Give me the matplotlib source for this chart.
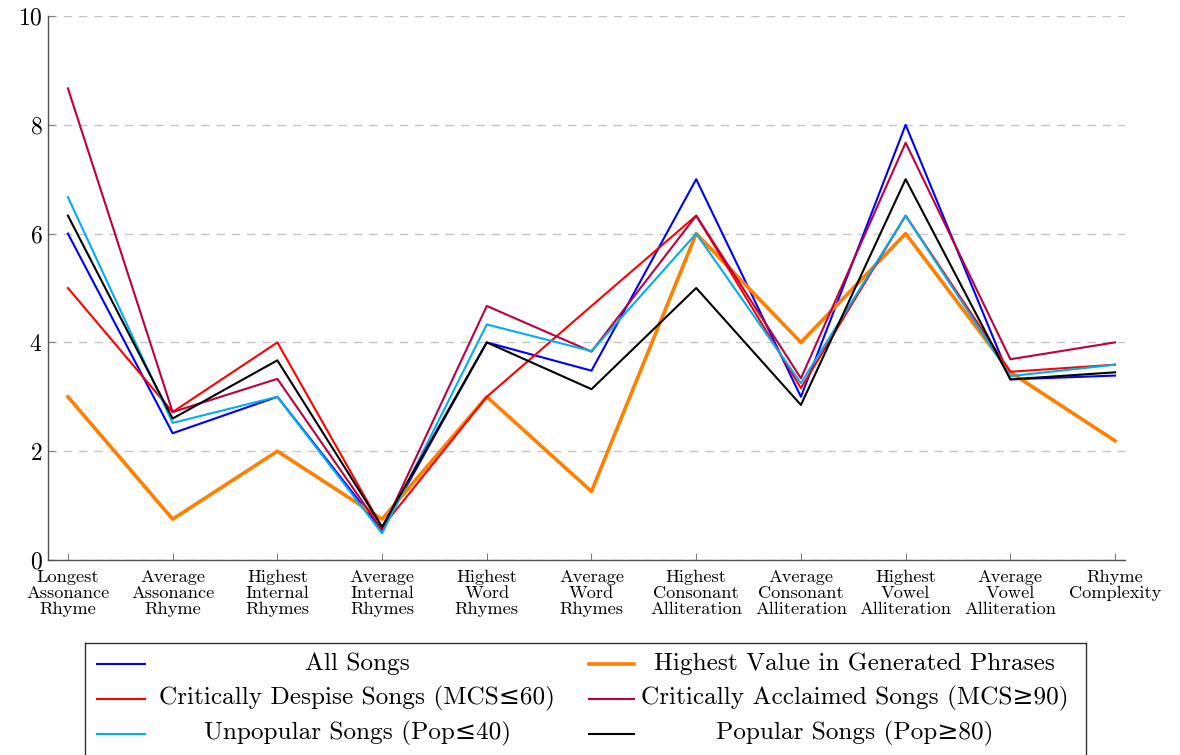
import numpy as np
import matplotlib
matplotlib.use("Agg")
import matplotlib.pyplot as plt

plt.rcParams['font.family'] = ['cmr10', 'DejaVu Serif']
plt.rcParams['mathtext.fontset'] = 'cm'
plt.rcParams['axes.formatter.use_mathtext'] = True

categories = ['Longest\nAssonance\nRhyme', 'Average\nAssonance\nRhyme', 'Highest\nInternal\nRhymes',
              'Average\nInternal\nRhymes', 'Highest\nWord\nRhymes', 'Average\nWord\nRhymes',
              'Highest\nConsonant\nAlliteration', 'Average\nConsonant\nAlliteration',
              'Highest\nVowel\nAlliteration', 'Average\nVowel\nAlliteration', 'Rhyme\nComplexity']

all_songs = [6.0, 2.33, 3.0, 0.55, 4.0, 3.48, 7.0, 3.0, 8.0, 3.32, 3.39]
generated = [3.0, 0.75, 2.0, 0.75, 3.0, 1.26, 6.0, 4.0, 6.0, 3.45, 2.19]
despised = [5.0, 2.72, 4.0, 0.6, 3.0, 4.67, 6.33, 3.16, 6.33, 3.46, 3.59]
acclaimed = [8.67, 2.72, 3.33, 0.55, 4.67, 3.83, 6.33, 3.34, 7.67, 3.69, 4.0]
unpopular = [6.67, 2.52, 3.0, 0.49, 4.33, 3.84, 6.0, 3.25, 6.33, 3.38, 3.59]
popular = [6.33, 2.6, 3.67, 0.61, 4.0, 3.14, 5.0, 2.85, 7.0, 3.32, 3.45]

series = [
    ('All Songs', all_songs, '#0000ff', 1.5),
    ('Highest Value in Generated Phrases', generated, '#ff8000', 2.6),
    ('Critically Despise Songs (MCS≤60)', despised, '#ff0000', 1.5),
    ('Critically Acclaimed Songs (MCS≥90)', acclaimed, '#bf0040', 1.5),
    ('Unpopular Songs (Pop≤40)', unpopular, '#00aeef', 1.5),
    ('Popular Songs (Pop≥80)', popular, '#000000', 1.5),
]

fig = plt.figure(figsize=(11.8, 7.55), dpi=100)
ax = fig.add_axes([0.0407, 0.2583, 0.9127, 0.7205])
x = np.arange(len(categories))
for name, vals, col, lw in series:
    ax.plot(x, vals, color=col, lw=lw, label=name)

ax.set_xlim(-0.19, 10.095)
ax.set_ylim(0, 10)
ax.set_yticks([0, 2, 4, 6, 8, 10])
ax.set_xticks(x)
ax.set_xticklabels(categories, fontsize=13.2, linespacing=1.05)
ax.tick_params(axis='y', labelsize=17, direction='in', length=5, color='#808080', pad=4)
ax.tick_params(axis='x', direction='in', length=5, color='#808080', pad=7)
for s in ['top', 'right']:
    ax.spines[s].set_visible(False)
for s in ['left', 'bottom']:
    ax.spines[s].set_color('#505050')
    ax.spines[s].set_linewidth(1.0)
ax.yaxis.grid(True, linestyle=(0, (6, 5)), color='#c4c4c4', lw=1.0)
ax.set_axisbelow(True)

# legend box, two columns with centred text
lax = fig.add_axes([0.072, -0.02, 0.848, 0.1683])
lax.set_xlim(0, 1)
lax.set_ylim(0, 1)
lax.set_xticks([])
lax.set_yticks([])
for s in lax.spines.values():
    s.set_color('#303030')
    s.set_linewidth(1.0)
rows = [0.835, 0.56, 0.285]
for i, (name, vals, col, lw) in enumerate(series):
    r, c = divmod(i, 2)
    hx = [0.012, 0.060] if c == 0 else [0.504, 0.549]
    tx = 0.272 if c == 0 else 0.769
    lax.plot(hx, [rows[r], rows[r]], color=col, lw=lw)
    lax.text(tx, rows[r], name, ha='center', va='center', fontsize=18.2)

fig.savefig('out.png', dpi=100)
